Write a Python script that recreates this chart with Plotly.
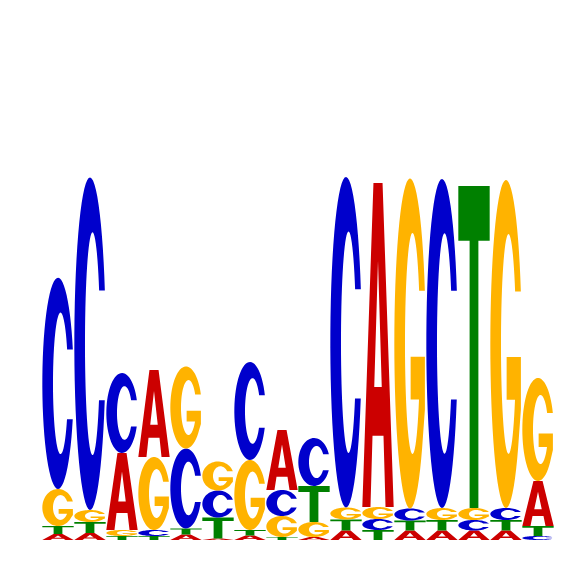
import numpy as np
import plotly.graph_objects as go

# Sequence logo: letter heights (bits) per position
positions = list(range(1, 17))
letters = ["A", "C", "G", "T"]
height_A = [0.024, 0.028, 0.308, 0.348, 0.022, 0.006, 0.018, 0.240,
            0.012, 0.038, 1.296, 0.038, 0.038, 0.038, 0.038, 0.180]
height_C = [0.845, 1.330, 0.320, 0.024, 0.320, 0.108, 0.392, 0.104,
            0.192, 1.322, 0.044, 0.048, 1.316, 0.042, 0.048, 0.016]
height_G = [0.148, 0.048, 0.024, 0.292, 0.328, 0.116, 0.280, 0.084,
            0.060, 0.048, 0.048, 1.320, 0.048, 0.048, 1.312, 0.412]
height_T = [0.032, 0.044, 0.016, 0.016, 0.024, 0.084, 0.022, 0.012,
            0.144, 0.044, 0.040, 0.040, 0.042, 1.288, 0.042, 0.040]

colors = {"A": "#CC0000", "C": "#0000CC", "G": "#FFB300", "T": "#008000"}


def arc(cx, cy, rx, ry, t0, t1, n=60):
    t = np.linspace(t0, t1, n)
    return list(zip(cx + rx * np.cos(t), cy + ry * np.sin(t)))


# glyph outlines in a unit box (x 0..1, y 0..1)
def glyph(letter):
    if letter == "T":
        return [[(0, 1), (1, 1), (1, 0.83), (0.64, 0.83), (0.64, 0),
                 (0.36, 0), (0.36, 0.83), (0, 0.83)]]
    if letter == "A":
        outer = [(0, 0), (0.355, 1), (0.645, 1), (1, 0), (0.74, 0),
                 (0.675, 0.22), (0.325, 0.22), (0.26, 0)]
        hole = [(0.38, 0.37), (0.5, 0.76), (0.62, 0.37)]
        return [outer, hole]
    ocx, ocy, orx, ory = 0.5, 0.5, 0.5, 0.5
    icx, icy, irx, iry = 0.58, 0.5, 0.24, 0.335
    yu = 0.66
    au = np.arcsin((yu - ocy) / ory)
    bu = np.arcsin((yu - icy) / iry)
    if letter == "C":
        yl = 0.33
        al = 2 * np.pi + np.arcsin((yl - ocy) / ory)
        bl = 2 * np.pi + np.arcsin((yl - icy) / iry)
        pts = arc(ocx, ocy, orx, ory, au, al) + arc(icx, icy, irx, iry, bl, bu)
        return [pts]
    # G
    ye = 0.22
    ae = 2 * np.pi + np.arcsin((ye - ocy) / ory)
    yb = 0.33
    bb = 2 * np.pi + np.arcsin((yb - icy) / iry)
    pts = arc(ocx, ocy, orx, ory, au, ae)
    pts += [(0.975, 0.3), (0.975, 0.46), (0.52, 0.46), (0.52, yb)]
    pts += arc(icx, icy, irx, iry, bb, bu)
    return [pts]


def to_path(polys, x0, x1, y0, y1):
    s = ""
    for poly in polys:
        for k, (gx, gy) in enumerate(poly):
            px = x0 + gx * (x1 - x0)
            py = y0 + gy * (y1 - y0)
            s += ("M" if k == 0 else "L") + f"{px:.4f},{py:.5f}"
        s += "Z"
    return s


heights = {"A": height_A, "C": height_C, "G": height_G, "T": height_T}

fig = go.Figure()
shapes = []
pad = 0.01
for i, pos in enumerate(positions):
    col = sorted(letters, key=lambda l: heights[l][i])
    base = 0.0
    for l in col:
        h = heights[l][i]
        shapes.append(dict(
            type="path",
            path=to_path(glyph(l), pos - 0.5 + pad, pos + 0.5 - pad, base, base + h),
            xref="x", yref="y",
            fillcolor=colors[l],
            fillrule="evenodd",
            line=dict(width=0),
            layer="above",
        ))
        base += h

fig.add_trace(go.Scatter(x=positions, y=[0] * len(positions), mode="none",
                         hoverinfo="skip", showlegend=False))
fig.update_layout(
    width=550, height=550,
    margin=dict(l=34, r=4, t=32, b=18),
    plot_bgcolor="white", paper_bgcolor="white",
    shapes=shapes,
    xaxis=dict(range=[0.5, 16.5], visible=False),
    yaxis=dict(range=[0, 2], visible=False),
    showlegend=False,
)
fig.write_html("out.html")
